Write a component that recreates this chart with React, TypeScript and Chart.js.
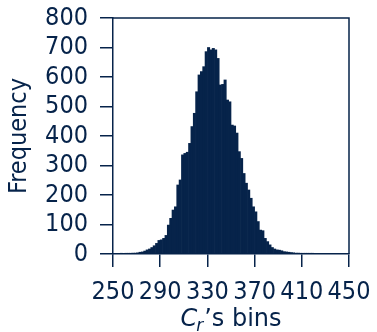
import React, { useEffect, useRef } from "react";
import { Chart, registerables } from "chart.js";

Chart.register(...registerables);

// Histogram bins (centres, width 2) and counts
const binCenters = [
  257, 259, 261, 263, 265, 267, 269, 271, 273, 275, 277, 279, 281, 283, 285, 287,
  289, 291, 293, 295, 297, 299, 301, 303, 305, 307, 309, 311, 313, 315, 317, 319,
  321, 323, 325, 327, 329, 331, 333, 335, 337, 339, 341, 343, 345, 347, 349, 351,
  353, 355, 357, 359, 361, 363, 365, 367, 369, 371, 373, 375, 377, 379, 381, 383,
  385, 387, 389, 391, 393, 395, 397, 399, 401, 403, 405, 407, 409, 411, 413, 415,
  417, 419,
];
const frequencies = [
  1, 0, 1, 1, 2, 3, 3, 4, 6, 7, 10, 14, 17, 22, 28, 36,
  46, 48, 53, 63, 98, 121, 149, 160, 234, 251, 336, 341, 345, 375, 432, 477,
  550, 607, 618, 635, 686, 700, 692, 697, 692, 663, 573, 575, 590, 522, 516, 437,
  434, 410, 347, 324, 273, 240, 217, 189, 160, 143, 110, 81, 79, 53, 42, 31,
  22, 17, 14, 13, 11, 8, 7, 6, 5, 4, 3, 3, 2, 2, 1, 1,
  1, 1,
];
const xTickValues = [250, 290, 330, 370, 410, 450];
const yTickValues = [0, 100, 200, 300, 400, 500, 600, 700, 800];
const yAxisTitle = "Frequency";
const xTitleMain = "C";
const xTitleSub = "r";
const xTitleRest = "\u2019s bins";

const NAVY = "#06234a";
const FONT = "'DejaVu Sans Condensed', 'DejaVu Sans', sans-serif";
const TITLE_FONT = "'DejaVu Sans', sans-serif";

export default function App() {
  const ref = useRef<HTMLCanvasElement>(null);

  useEffect(() => {
    if (!ref.current) return;

    const framePlugin = {
      id: "frameAndTitle",
      afterDraw(chart: any) {
        const { ctx, chartArea: a } = chart;
        ctx.save();
        ctx.strokeStyle = NAVY;
        ctx.lineWidth = 1.5;
        ctx.beginPath();
        ctx.moveTo(a.left, a.top);
        ctx.lineTo(a.right, a.top);
        ctx.lineTo(a.right, a.bottom);
        ctx.stroke();

        // x-axis title with italic C and subscript r
        const baseY = 326;
        ctx.fillStyle = NAVY;
        ctx.textBaseline = "alphabetic";
        ctx.textAlign = "left";
        const fMain = `italic 24px ${TITLE_FONT}`;
        const fSub = `italic 17px ${TITLE_FONT}`;
        const fRest = `24px ${TITLE_FONT}`;
        ctx.font = fMain;
        const wMain = ctx.measureText(xTitleMain).width;
        ctx.font = fSub;
        const wSub = ctx.measureText(xTitleSub).width;
        ctx.font = fRest;
        const wRest = ctx.measureText(xTitleRest).width;
        const total = wMain + wSub + wRest;
        let x = (a.left + a.right) / 2 - total / 2;
        ctx.font = fMain;
        ctx.fillText(xTitleMain, x, baseY);
        x += wMain;
        ctx.font = fSub;
        ctx.fillText(xTitleSub, x - 1, baseY + 5);
        x += wSub;
        ctx.font = fRest;
        ctx.fillText(xTitleRest, x, baseY);
        ctx.restore();
      },
    };

    const chart = new Chart(ref.current, {
      type: "bar",
      data: {
        datasets: [
          {
            data: binCenters.map((c, i) => ({ x: c, y: frequencies[i] })),
            backgroundColor: NAVY,
            borderWidth: 0,
            barPercentage: 1,
            categoryPercentage: 1,
          },
        ],
      },
      options: {
        animation: false,
        responsive: false,
        devicePixelRatio: 1,
        layout: { padding: { top: 18, right: 28, bottom: 0, left: 0 } },
        plugins: { legend: { display: false }, tooltip: { enabled: false } },
        scales: {
          x: {
            type: "linear",
            min: 250,
            max: 450,
            offset: false,
            afterBuildTicks: (s: any) => {
              s.ticks = xTickValues.map((v) => ({ value: v }));
            },
            afterFit: (s: any) => {
              s.height = 78;
              s.paddingLeft = 0;
              s.paddingRight = 0;
            },
            ticks: {
              autoSkip: false,
              maxRotation: 0,
              minRotation: 0,
              padding: 10,
              color: NAVY,
              font: { family: FONT, size: 25 },
            },
            grid: {
              drawOnChartArea: false,
              drawTicks: true,
              tickLength: 13,
              color: NAVY,
              lineWidth: 1.5,
              offset: false,
            },
            border: { display: true, color: NAVY, width: 1.5 },
          },
          y: {
            min: 0,
            max: 800,
            afterBuildTicks: (s: any) => {
              s.ticks = yTickValues.map((v) => ({ value: v }));
            },
            afterFit: (s: any) => {
              s.width = 113;
              s.paddingTop = 0;
              s.paddingBottom = 0;
            },
            ticks: {
              autoSkip: false,
              padding: 12,
              color: NAVY,
              font: { family: FONT, size: 25 },
            },
            grid: {
              drawOnChartArea: false,
              drawTicks: true,
              tickLength: 13,
              color: NAVY,
              lineWidth: 1.5,
            },
            border: { display: true, color: NAVY, width: 1.5 },
            title: {
              display: true,
              text: yAxisTitle,
              color: NAVY,
              font: { family: FONT, size: 25 },
              padding: { top: 4, bottom: 4 },
            },
          },
        },
      },
      plugins: [framePlugin],
    });

    return () => chart.destroy();
  }, []);

  return (
    <div
      style={{
        position: "absolute",
        left: 0,
        top: 0,
        width: 377,
        height: 332,
        background: "#ffffff",
      }}
    >
      <canvas ref={ref} width={377} height={332} />
    </div>
  );
}
